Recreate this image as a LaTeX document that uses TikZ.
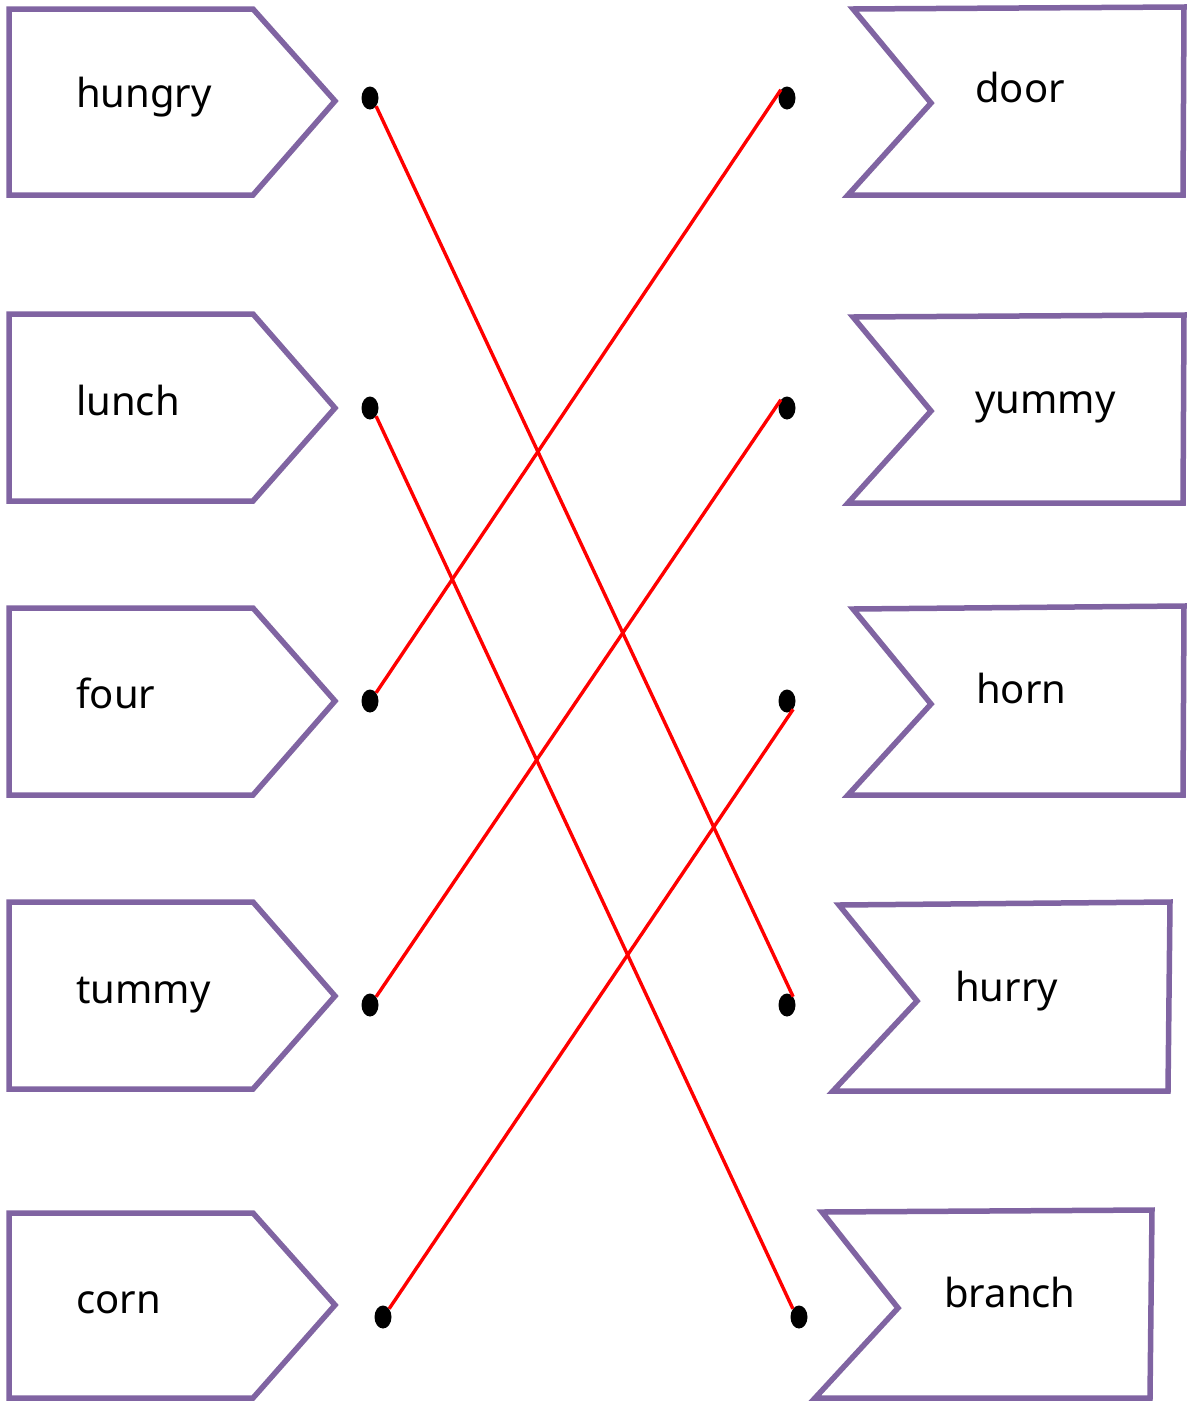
\documentclass[tikz,border=0pt]{standalone}
\usepackage{fontspec}
\setmainfont{Noto Sans}
\usetikzlibrary{shapes.geometric}
\definecolor{tagpurple}{HTML}{8064A2}
\begin{document}
\begin{tikzpicture}[x=1pt,y=-1pt,
  tagline/.style={draw=tagpurple,line width=5.5pt,line join=miter},
  word/.style={anchor=base west,inner sep=0pt,font=\fontsize{40}{48}\selectfont},
  dot/.style={ellipse,fill=black,draw=none,minimum width=17pt,minimum height=23pt,inner sep=0pt},
  link/.style={draw=red,line width=3.4pt}]
\useasboundingbox[fill=white] (0,0) rectangle (1189,1403);
% left tags
\foreach \t/\m/\b in {9/101/195, 314/408/501, 608/701/795, 902/996/1089, 1213/1305/1398}{
  \draw[tagline] (9,\t) -- (253,\t) -- (335,\m) -- (253,\b) -- (9,\b) -- cycle;
}
% right tags
\draw[tagline] (853,9) -- (1184,7) -- (1183,195) -- (848,195) -- (931,103) -- cycle;
\draw[tagline] (853,317) -- (1184,315) -- (1183,503) -- (848,503) -- (931,411) -- cycle;
\draw[tagline] (853,609) -- (1184,606) -- (1183,795) -- (848,795) -- (931,704) -- cycle;
\draw[tagline] (839,905) -- (1170,902) -- (1168,1091) -- (833,1091) -- (917,1001) -- cycle;
\draw[tagline] (822,1212) -- (1152,1210) -- (1150,1398) -- (815,1398) -- (898,1308) -- cycle;
% words
\node[word] (hungry) at (76,107) {hungry};
\node[word] (lunch) at (76,415) {lunch};
\node[word] (four) at (76,708) {four};
\node[word] (tummy) at (76,1003) {tummy};
\node[word] (corn) at (76,1313) {corn};
\node[word] (door) at (975,102) {door};
\node[word] (yummy) at (975,413) {yummy};
\node[word] (horn) at (976,703) {horn};
\node[word] (hurry) at (955,1001) {hurry};
\node[word] (branch) at (944,1307) {branch};
% dots
\node[dot] (dHungry) at (370,98) {};
\node[dot] (dLunch) at (370,408) {};
\node[dot] (dFour) at (370,701) {};
\node[dot] (dTummy) at (370,1005) {};
\node[dot] (dCorn) at (383,1317) {};
\node[dot] (dDoor) at (787,98) {};
\node[dot] (dYummy) at (787,408) {};
\node[dot] (dHorn) at (787,701) {};
\node[dot] (dHurry) at (787,1005) {};
\node[dot] (dBranch) at (799,1317) {};
% links
\draw[link] (dHungry.south east) -- (dHurry.north east);
\draw[link] (dLunch.south east) -- (dBranch.north west);
\draw[link] (dFour.north east) -- (dDoor.north west);
\draw[link] (dTummy.north east) -- (dYummy.north west);
\draw[link] (dCorn.north east) -- (dHorn.south east);
\end{tikzpicture}
\end{document}
